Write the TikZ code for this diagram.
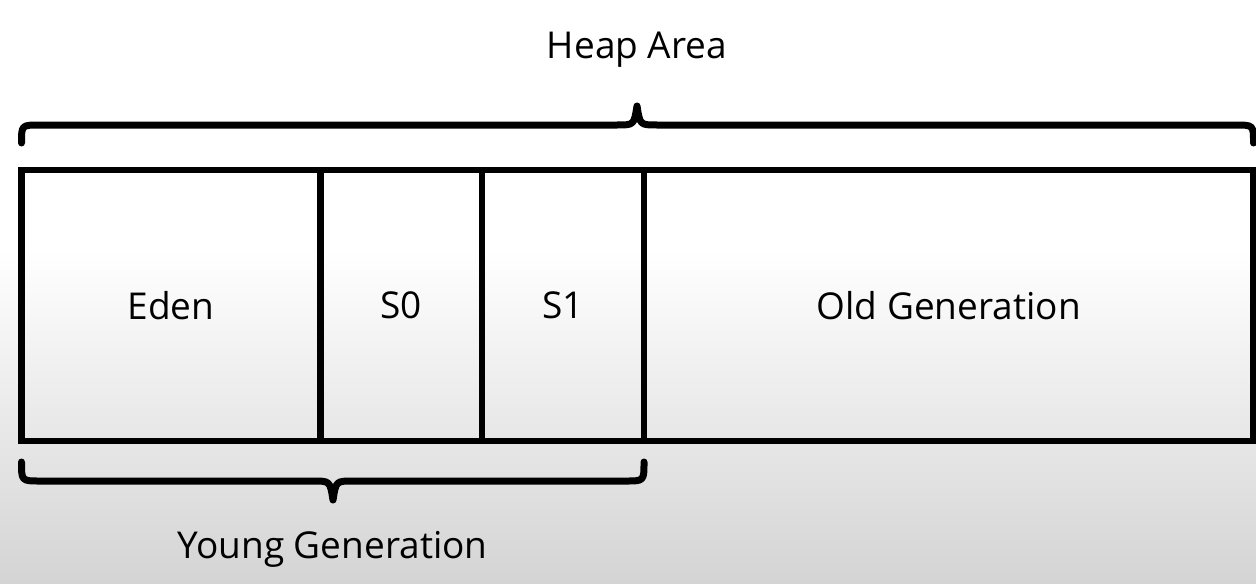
\documentclass[tikz,border=0pt]{standalone}
\usepackage{fontspec}
\setmainfont{Open Sans}
\definecolor{bggray}{HTML}{D4D4D4}
\begin{document}
\begin{tikzpicture}[x=0.5pt,y=-0.5pt,
  cell/.style={draw=black,line width=3.3pt,inner sep=0pt,outer sep=0pt,anchor=north west,minimum height=135.5pt,font=\fontsize{18.5pt}{22pt}\selectfont},
  brace/.style={draw=black,line width=3.5pt,line cap=round,line join=round},
  lbl/.style={inner sep=0pt,anchor=base,font=\fontsize{18.5pt}{22pt}\selectfont}]
\useasboundingbox (0,0) rectangle (1256,583);
\fill[white] (0,0) rectangle (1256,583);
\shade[top color=white,bottom color=bggray] (0,250) rectangle (1256,583);
% cells
\node[cell,minimum width=149.5pt] (eden) at (21.5,170) {Eden};
\node[cell,minimum width=80.75pt] (s0) at (eden.north east) {S0};
\node[cell,minimum width=81pt] (s1) at (s0.north east) {S1};
\node[cell,minimum width=304.75pt] (old) at (s1.north east) {Old Generation};
% top brace
\coordinate (ta) at (21.5,143);
\coordinate (tb) at (1253.5,143);
\coordinate (ttip) at (637,106);
\path[brace] (ta) .. controls (21.5,125) .. (40,125) -- (617,125)
  .. controls (634,125) .. (ttip) .. controls (640,125) .. (657,125)
  -- (1235,125) .. controls (1253.5,125) .. (tb);
\node[lbl] (heap) at (637,59) {Heap Area};
% bottom brace
\coordinate (ba) at (21.5,462);
\coordinate (bb) at (644,462);
\coordinate (btip) at (333,500);
\path[brace] (ba) .. controls (21.5,481) .. (40,481) -- (313,481)
  .. controls (330,481) .. (btip) .. controls (336,481) .. (353,481)
  -- (626,481) .. controls (644,481) .. (bb);
\node[lbl] (young) at (332.5,558) {Young Generation};
\end{tikzpicture}
\end{document}
